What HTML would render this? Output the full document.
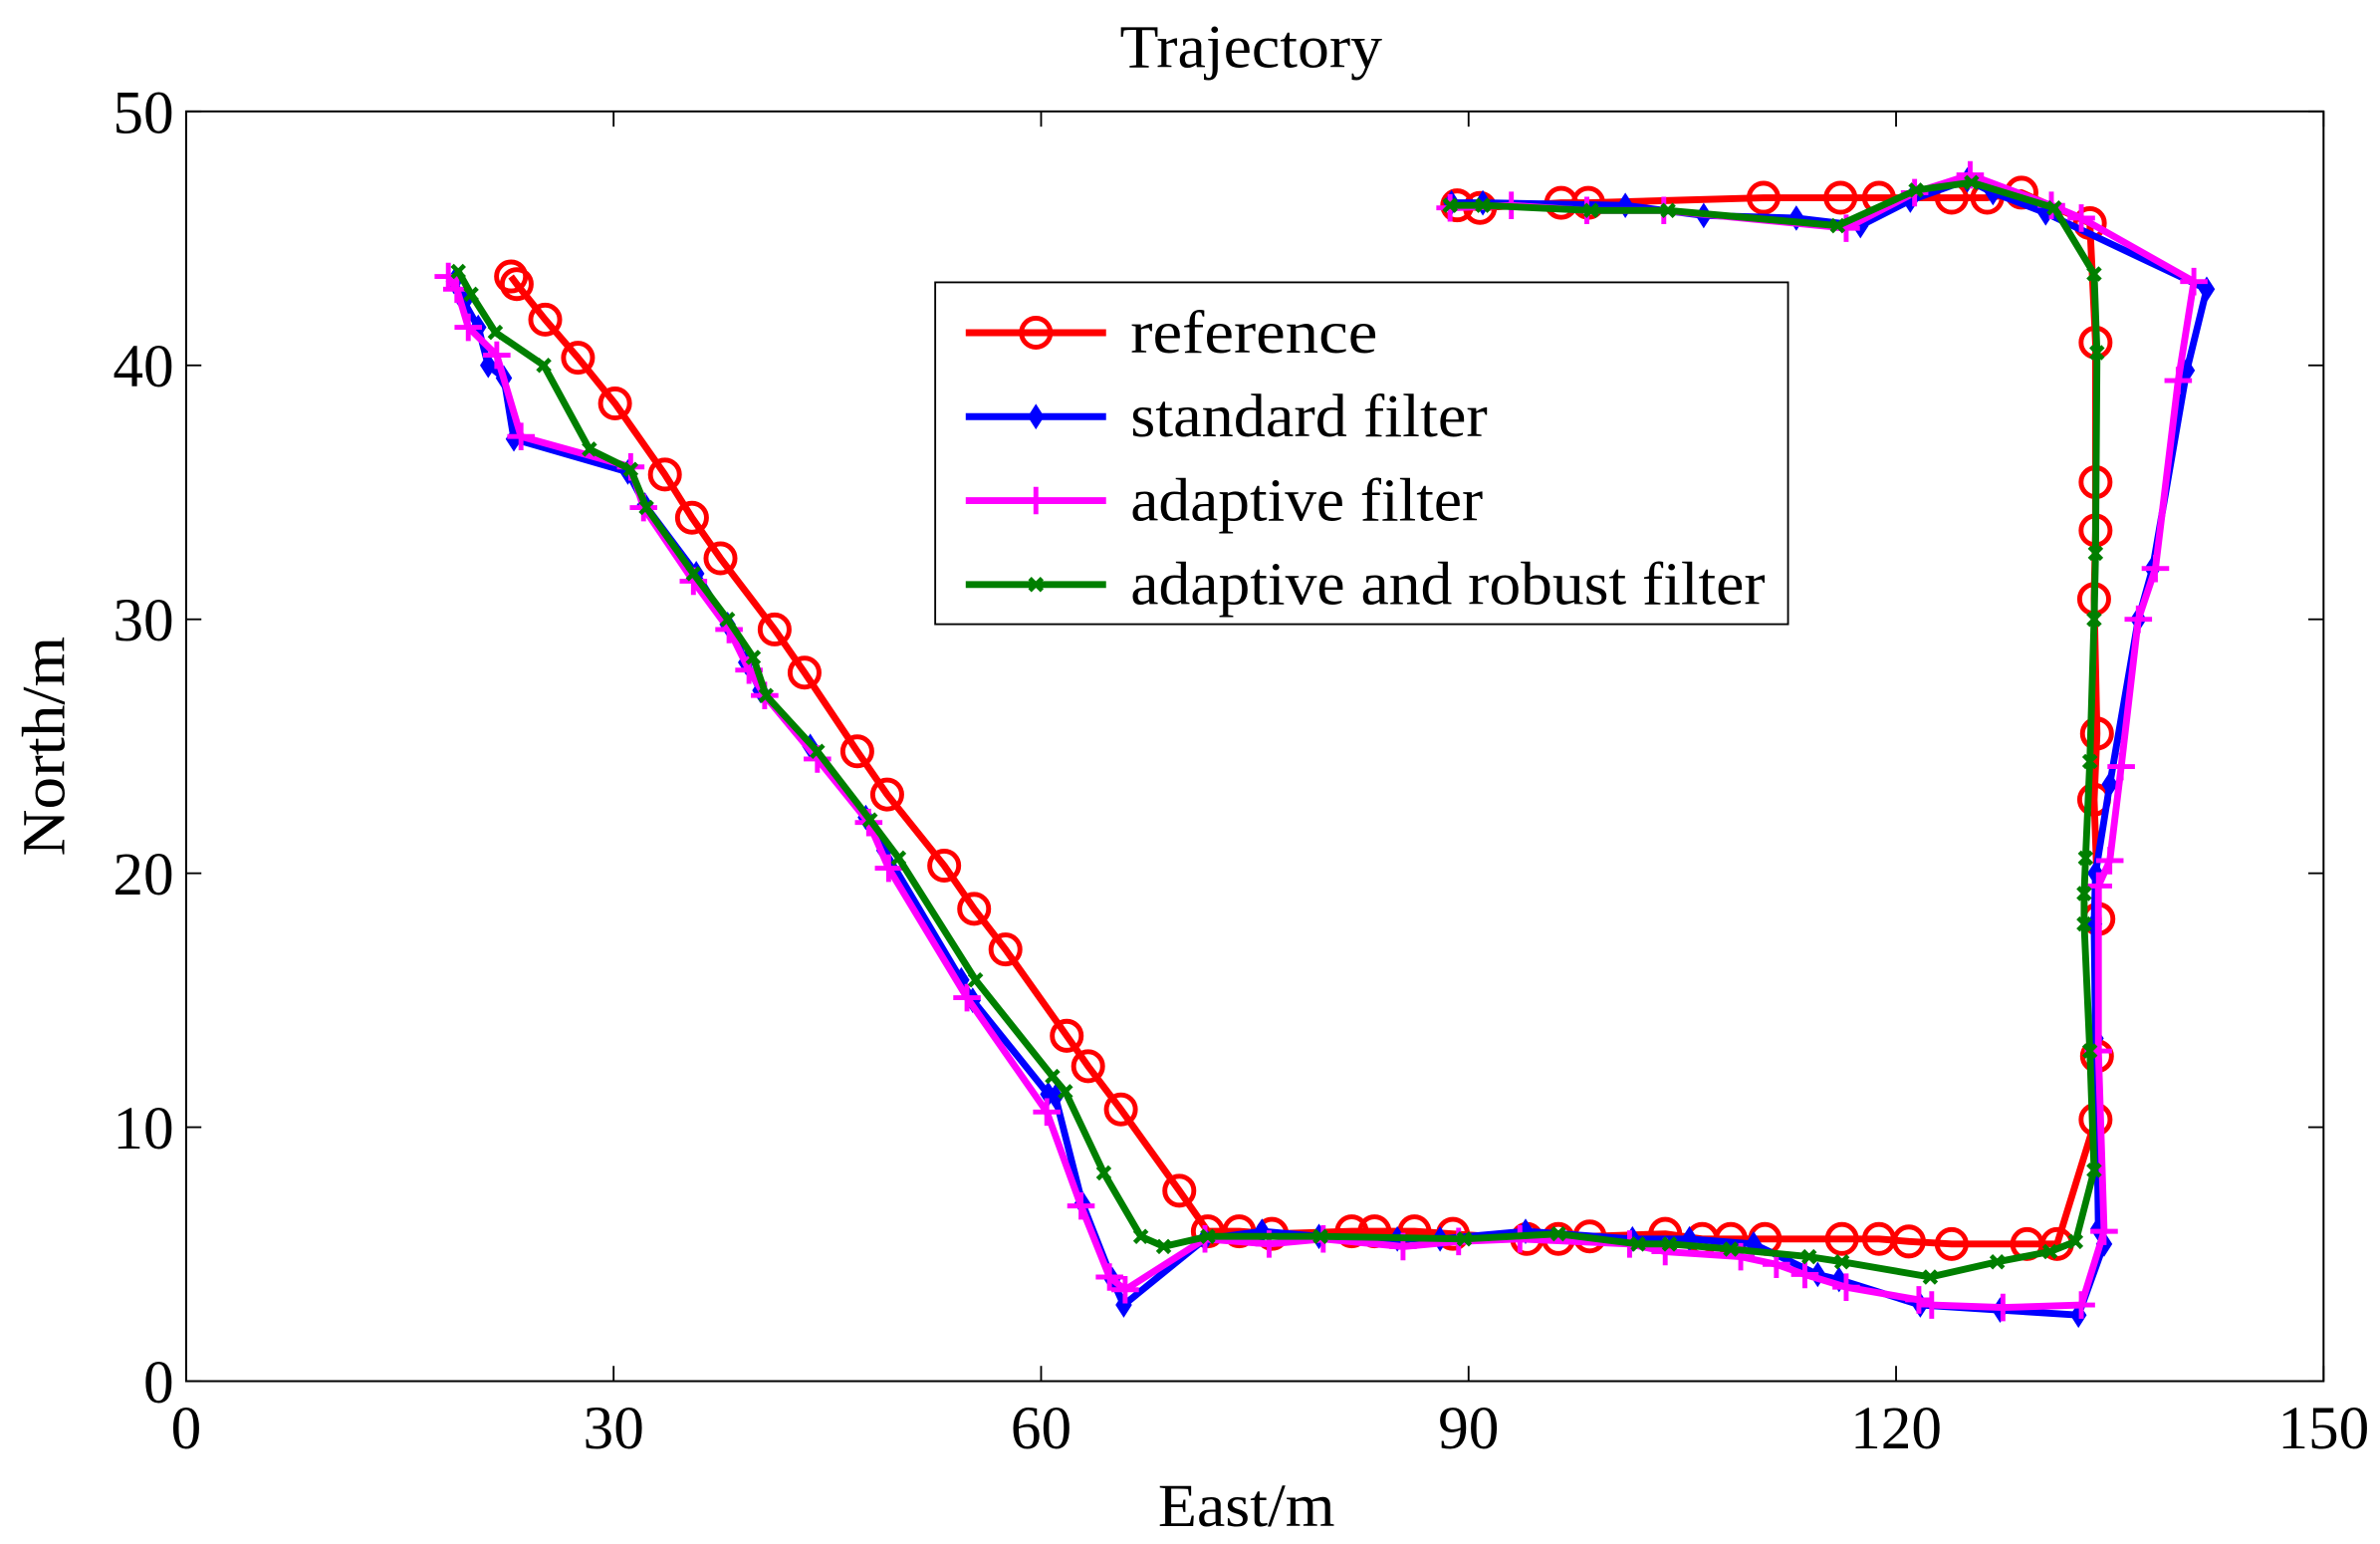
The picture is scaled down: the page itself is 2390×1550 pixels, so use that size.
<!DOCTYPE html>
<html><head><meta charset="utf-8"><style>
html,body{margin:0;padding:0;background:#fff;width:2390px;height:1550px;overflow:hidden}
svg{display:block}
text{font-family:"Liberation Serif",serif;fill:#000}
</style></head><body>
<svg id="chart" width="2390" height="1550" viewBox="0 0 1560 1011.7" preserveAspectRatio="none" xmlns="http://www.w3.org/2000/svg">
<rect width="1560" height="1012" fill="#fff"/>
<g id="plot"></g>
</svg>
<script>
const xTicks=[0,30,60,90,120,150];
const yTicks=[0,10,20,30,40,50];
const refData=[[22.8,43.5],[23.2,43.2],[25.2,41.8],[27.5,40.3],[30.1,38.5],[33.6,35.7],[35.5,34],[37.5,32.4],[41.3,29.6],[43.4,27.9],[47.1,24.8],[49.2,23.1],[53.2,20.3],[55.3,18.6],[57.5,17],[61.8,13.6],[63.3,12.4],[65.6,10.7],[69.7,7.5],[71.7,5.9],[73.9,5.9],[76.2,5.8],[81.8,5.9],[83.4,5.9],[86.2,5.9],[88.9,5.8],[94.1,5.6],[96.3,5.6],[98.5,5.7],[103.8,5.8],[106.4,5.6],[108.4,5.6],[110.8,5.6],[116.2,5.6],[118.8,5.6],[120.9,5.5],[123.9,5.4],[129.2,5.4],[131.3,5.4],[134.0,10.3],[134.1,12.8],[134.2,18.2],[133.9,22.9],[134.1,25.5],[133.9,30.8],[134,33.5],[134,35.4],[134,40.9],[133.6,45.6],[128.8,46.8],[126.4,46.6],[123.9,46.6],[118.8,46.6],[116.1,46.6],[110.7,46.6],[98.4,46.4],[96.5,46.4],[90.8,46.2],[89.2,46.3]];
const stdData=[[18.8,43.3],[19.5,42.5],[20.5,41.5],[21.2,40],[22.3,39.5],[23,37.1],[31,35.8],[32.2,34.5],[35.8,31.8],[38,29.8],[39.3,28.3],[40.3,27.2],[43.8,25],[47.7,22.2],[49,20.9],[54.4,15.8],[55.2,15],[60.5,11.3],[61,11.2],[62.9,7],[65,4],[65.8,3],[71.5,5.6],[75.5,5.9],[79.5,5.7],[85,5.6],[88,5.6],[94,5.9],[101.5,5.6],[105.5,5.6],[110,5.4],[114.5,4.2],[116,4],[121.7,3],[127.3,2.8],[132.8,2.6],[134.6,5.4],[134.2,6],[134,13.5],[133.9,18],[134,20],[135,23.5],[137,30],[138,32],[140.4,39.8],[141.8,43],[130.5,46],[126.8,46.8],[125,47.3],[121,46.5],[117.5,45.5],[113,45.8],[106.5,45.9],[101,46.3],[91,46.4],[88.8,46.4]];
const adaData=[[18.4,43.5],[19,43],[19.8,41.5],[21.8,40.4],[23.5,37.2],[31.2,36],[32.1,34.4],[35.6,31.5],[38.1,29.6],[39.5,28],[40.6,27],[44.3,24.5],[47.9,22],[49.3,20.2],[54.8,15.1],[60.4,10.6],[62.8,6.9],[64.8,4.1],[65.9,3.6],[71.5,5.6],[76,5.4],[79.8,5.6],[85.4,5.3],[89.3,5.5],[93.6,5.6],[101.3,5.4],[103.8,5.1],[109.1,4.9],[111.6,4.6],[113.6,4.2],[116.5,3.7],[121.6,3.2],[122.5,3],[127.5,2.9],[133,3],[134.6,5.9],[134.2,13],[134.2,19.5],[135,20.5],[135.8,24.2],[137,30],[138.2,32],[139.8,39.4],[140.9,43.3],[133,45.8],[130.9,46.3],[125.2,47.5],[121.3,46.8],[116.5,45.4],[103.7,46.1],[98.3,46.1],[93,46.3],[88.7,46.2]];
const robData=[[19.1,43.7],[20,42.8],[21.7,41.3],[25.1,40],[28.3,36.7],[31.2,35.9],[32.3,34.4],[35.6,31.8],[38,30],[39.8,28.5],[40.7,27],[44.3,24.8],[48,22.1],[50,20.6],[55.4,15.8],[60.8,12],[61.7,11.4],[64.4,8.2],[67,5.7],[68.6,5.3],[71.7,5.7],[79.6,5.7],[89.7,5.6],[96.3,5.8],[101.9,5.4],[104.1,5.4],[108.4,5.2],[113.9,4.9],[116.2,4.7],[122.4,4.1],[127.1,4.7],[130.8,5.1],[132.6,5.5],[133.9,8.3],[133.6,13],[133.2,18],[133.2,19.2],[133.3,20.6],[133.6,24.4],[133.9,30],[134,32.6],[134.1,40.5],[133.9,43.6],[131.1,46.2],[125.3,47.2],[121.4,46.9],[115.9,45.5],[104,46.1],[98.6,46.1],[91,46.3],[88.7,46.3]];
const seriesNames=["reference","standard filter","adaptive filter","adaptive and robust filter"];

const L=122,R=1523,T=73,B=905;
const sx=v=>L+(v-0)/(150-0)*(R-L);
const sy=v=>B-(v-0)/(50-0)*(B-T);
const NS="http://www.w3.org/2000/svg";
const g=document.getElementById('plot');
function mk(tag,attrs,parent){const e=document.createElementNS(NS,tag);for(const k in attrs)e.setAttribute(k,attrs[k]);(parent||g).appendChild(e);return e;}

const title=mk('text',{x:820,y:44,'font-size':40,'text-anchor':'middle',textLength:172,lengthAdjust:'spacingAndGlyphs'});title.textContent='Trajectory';


const xl=mk('text',{x:817,y:1000,'font-size':40,'text-anchor':'middle',textLength:116,lengthAdjust:'spacingAndGlyphs'});xl.textContent='East/m';


const yl=mk('text',{x:0,y:0,'font-size':40,'text-anchor':'middle',textLength:144,lengthAdjust:'spacingAndGlyphs',transform:'translate(42,489) rotate(-90)'});yl.textContent='North/m';



const frame=mk('rect',{x:L,y:T,width:R-L,height:B-T,fill:'none',stroke:'#000','stroke-width':1.3});


xTicks.forEach(t=>{
  const x=sx(t);
  mk('line',{x1:x,y1:B,x2:x,y2:B-10,stroke:'#000','stroke-width':1.2});
  mk('line',{x1:x,y1:T,x2:x,y2:T+10,stroke:'#000','stroke-width':1.2});
  const tx=mk('text',{x:x,y:B+44,'font-size':40,'text-anchor':'middle'});tx.textContent=t;
  
  
});
yTicks.forEach(t=>{
  const y=sy(t);
  mk('line',{x1:L,y1:y,x2:L+10,y2:y,stroke:'#000','stroke-width':1.2});
  mk('line',{x1:R,y1:y,x2:R-10,y2:y,stroke:'#000','stroke-width':1.2});
  const tx=mk('text',{x:L-8,y:y+14,'font-size':40,'text-anchor':'end'});tx.textContent=t;
  
  
});

function marker(type,x,y,color,parent){
  if(type==='o') return mk('circle',{cx:x,cy:y,r:9.5,fill:'none',stroke:color,'stroke-width':3.2},parent);
  if(type==='d') return mk('path',{d:`M${x},${y-7}L${x+4.5},${y}L${x},${y+7}L${x-4.5},${y}Z`,fill:color,stroke:color,'stroke-width':1.5},parent);
  if(type==='+') return mk('path',{d:`M${x-9},${y}H${x+9}M${x},${y-9}V${y+9}`,stroke:color,'stroke-width':3.2,fill:'none'},parent);
  if(type==='x') return mk('path',{d:`M${x-4},${y-4}L${x+4},${y+4}M${x+4},${y-4}L${x-4},${y+4}`,stroke:color,'stroke-width':3,fill:'none'},parent);
}
function drawSeries(data,color,type,name){
  const grp=mk('g',{});
  
  
  mk('polyline',{points:data.map(p=>sx(p[0])+','+sy(p[1])).join(' '),fill:'none',stroke:color,'stroke-width':4.5,'stroke-linejoin':'round'},grp);
  data.forEach(p=>{const m=marker(type,sx(p[0]),sy(p[1]),color,grp);
    
    });
}
drawSeries(refData,'#ff0000','o','reference-series');
drawSeries(stdData,'#0000ff','d','standard-filter-series');
drawSeries(adaData,'#ff00ff','+','adaptive-filter-series');
drawSeries(robData,'#007f00','x','adaptive-robust-filter-series');

const lg=mk('g',{});


mk('rect',{x:613,y:185,width:559,height:224,fill:'#fff',stroke:'#000','stroke-width':1.2},lg);
const cols=['#ff0000','#0000ff','#ff00ff','#007f00'],types=['o','d','+','x'];
const lens=[162,234,231,416];
seriesNames.forEach((n,i)=>{
  const y=218+i*55;
  const e=mk('g',{},lg);
  
  
  mk('line',{x1:633,y1:y,x2:725,y2:y,stroke:cols[i],'stroke-width':4.5},e);
  marker(types[i],679,y,cols[i],e);
  const t=mk('text',{x:741,y:y+13,'font-size':40,textLength:lens[i],lengthAdjust:'spacingAndGlyphs'},e);t.textContent=n;
});
</script>
</body></html>
